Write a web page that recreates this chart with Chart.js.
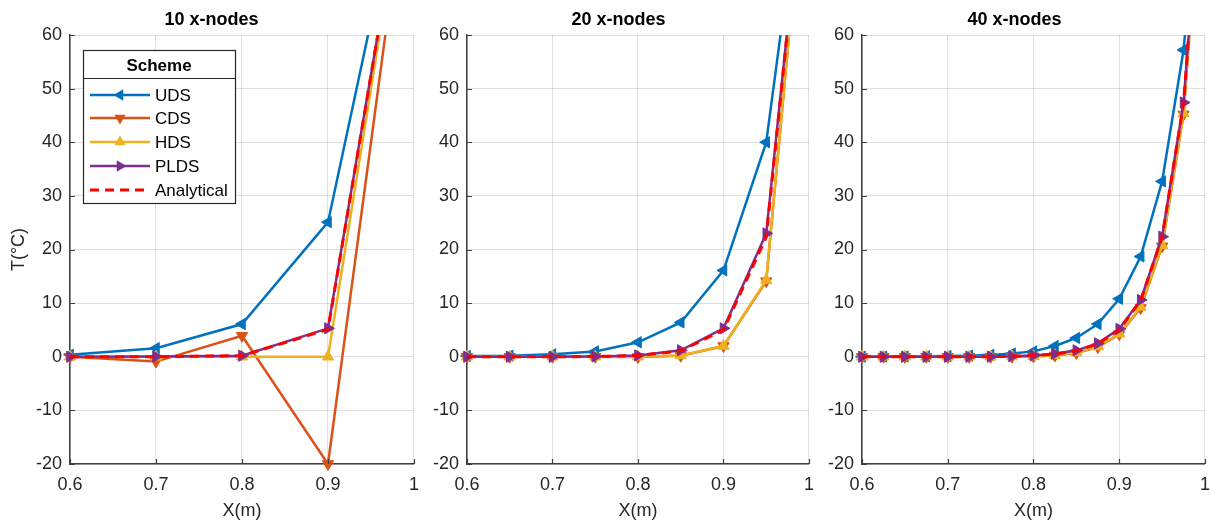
<!DOCTYPE html>
<html><head><meta charset="utf-8">
<script src="https://cdn.jsdelivr.net/npm/chart.js@4/dist/chart.umd.min.js"></script>
<style>
html,body{margin:0;padding:0;background:#fff;width:1211px;height:521px;overflow:hidden;position:relative;}
canvas{position:absolute;top:0;}
</style></head><body>
<canvas id="c1" width="429" height="521" style="left:0px"></canvas>
<canvas id="c2" width="405" height="521" style="left:419px"></canvas>
<canvas id="c3" width="405" height="521" style="left:815px"></canvas>
<script>
// ---- data ----
const schemes = ['UDS', 'CDS', 'HDS', 'PLDS', 'Analytical'];
const panelTitles = ['10 x-nodes', '20 x-nodes', '40 x-nodes'];
const legendTitle = 'Scheme';
const xAxisTitle = 'X(m)';
const yAxisTitle = 'T(°C)';

const x10 = [0.6, 0.7, 0.8, 0.9, 1.0];
const uds10 = [0.37, 1.6, 6.1, 25.1, 100];
const cds10 = [0.0, -0.9, 3.9, -20, 100];
const hds10 = [0.0, 0.0, 0.0, 0.0, 100];
const plds10 = [0.0, 0.05, 0.2, 5.3, 100];
const ana10 = [0.0, 0.02, 0.2, 5.1, 100];

const x20 = [0.6, 0.65, 0.7, 0.75, 0.8, 0.85, 0.9, 0.95, 1.0];
const uds20 = [0.15, 0.2, 0.45, 1.0, 2.7, 6.4, 16.1, 40.0, 100];
const cds20 = [0.0, 0.0, 0.0, 0.0, -0.05, 0.2, 2.0, 14.1, 100];
const hds20 = [0.0, 0.0, 0.0, 0.0, 0.02, 0.25, 2.0, 14.3, 100];
const plds20 = [0.0, 0.0, 0.0, 0.05, 0.25, 1.2, 5.3, 23.0, 100];
const ana20 = [0.0, 0.0, 0.0, 0.05, 0.22, 1.1, 5.0, 22.3, 100];

const x40 = [0.6, 0.625, 0.65, 0.675, 0.7, 0.725, 0.75, 0.775, 0.8, 0.825, 0.85, 0.875, 0.9, 0.925, 0.95, 0.975, 1.0];
const uds40 = [0.02, 0.03, 0.05, 0.08, 0.12, 0.2, 0.35, 0.6, 1.0, 2.0, 3.5, 6.1, 10.8, 18.7, 32.7, 57.2, 100];
const cds40 = [0, 0, 0, 0, 0, 0, 0, 0.02, 0.08, 0.25, 0.7, 1.8, 4.2, 9.1, 20.6, 45.2, 100];
const hds40 = [0, 0, 0, 0, 0, 0, 0, 0.03, 0.1, 0.3, 0.8, 1.9, 4.3, 9.3, 20.8, 45.4, 100];
const plds40 = [0, 0, 0, 0, 0, 0, 0.02, 0.08, 0.25, 0.55, 1.2, 2.5, 5.2, 10.6, 22.4, 47.4, 100];
const ana40 = [0, 0, 0, 0, 0, 0, 0.02, 0.08, 0.22, 0.5, 1.1, 2.4, 5.0, 10.5, 22.3, 47.2, 100];

// ---- styles ----
const FONT = "'Liberation Sans', Arial, Helvetica, sans-serif";
const colors = ['#0072BD', '#D95319', '#EDB120', '#7E2F8E', '#FF0000'];
const rotations = [270, 180, 0, 90, 0];
const drawOrder = [5, 4, 3, 2, 1];
const gridColor = 'rgba(38,38,38,0.15)';
const axisColor = '#404040';
const textColor = '#262626';

function makeDatasets(xs, seriesList) {
  return seriesList.map((vals, i) => {
    const isAna = i === 4;
    return {
      label: schemes[i],
      data: xs.map((x, k) => ({ x: x, y: vals[k] })),
      borderColor: colors[i],
      backgroundColor: colors[i],
      borderWidth: isAna ? 3 : 2.5,
      borderDash: isAna ? [9, 6] : [],
      pointStyle: 'triangle',
      pointRotation: rotations[i],
      pointRadius: isAna ? 0 : 6.5,
      pointHoverRadius: isAna ? 0 : 6.5,
      pointBackgroundColor: colors[i],
      pointBorderColor: colors[i],
      pointBorderWidth: 1,
      tension: 0,
      order: drawOrder[i],
      clip: { left: 10, top: 0, right: 0, bottom: 10 }
    };
  });
}

const innerTicks = {
  id: 'innerTicks',
  afterDraw(chart) {
    const ctx = chart.ctx, a = chart.chartArea;
    const xs = chart.scales.x, ys = chart.scales.y;
    ctx.save();
    ctx.strokeStyle = axisColor;
    ctx.lineWidth = 1.2;
    ctx.beginPath();
    ys.ticks.forEach(t => {
      const py = Math.round(ys.getPixelForValue(t.value)) + 0.5;
      ctx.moveTo(a.left, py); ctx.lineTo(a.left + 5, py);
    });
    xs.ticks.forEach(t => {
      const px = Math.round(xs.getPixelForValue(t.value)) + 0.5;
      ctx.moveTo(px, a.bottom); ctx.lineTo(px, a.bottom - 5);
    });
    ctx.stroke();
    ctx.restore();
  }
};

function drawTri(ctx, cx, cy, r, rotDeg) {
  let rad = rotDeg * Math.PI / 180;
  ctx.beginPath();
  for (let k = 0; k < 3; k++) {
    const px = cx + Math.sin(rad) * r, py = cy - Math.cos(rad) * r;
    if (k === 0) ctx.moveTo(px, py); else ctx.lineTo(px, py);
    rad += 2 * Math.PI / 3;
  }
  ctx.closePath();
  ctx.fill();
}

const schemeLegend = {
  id: 'schemeLegend',
  afterDraw(chart) {
    const ctx = chart.ctx;
    const L = 83, T = 50, R = 235, B = 203, sep = 78;
    ctx.save();
    ctx.fillStyle = '#fff';
    ctx.fillRect(L, T, R - L, B - T);
    ctx.strokeStyle = textColor;
    ctx.lineWidth = 1.2;
    ctx.strokeRect(L + 0.5, T + 0.5, R - L, B - T);
    ctx.beginPath(); ctx.moveTo(L, sep + 0.5); ctx.lineTo(R, sep + 0.5); ctx.stroke();
    ctx.fillStyle = '#000';
    ctx.font = 'bold 17px ' + FONT;
    ctx.textAlign = 'center'; ctx.textBaseline = 'middle';
    ctx.fillText(legendTitle, (L + R) / 2, 66);
    const rows = [95, 118, 142, 166, 190];
    ctx.font = '17px ' + FONT;
    ctx.textAlign = 'left';
    schemes.forEach((s, i) => {
      const y = rows[i];
      ctx.strokeStyle = colors[i];
      ctx.fillStyle = colors[i];
      ctx.lineWidth = i === 4 ? 3 : 2.5;
      ctx.setLineDash(i === 4 ? [9, 6] : []);
      ctx.beginPath(); ctx.moveTo(90, y); ctx.lineTo(150, y); ctx.stroke();
      ctx.setLineDash([]);
      if (i < 4) drawTri(ctx, 120, y, 6.5, rotations[i]);
      ctx.fillStyle = '#000';
      ctx.fillText(s, 155, y + 1);
    });
    ctx.restore();
  }
};

function makePanel(id, title, xs, seriesList, yW, padRight, showYTitle, withLegend) {
  return new Chart(document.getElementById(id), {
    type: 'line',
    data: { datasets: makeDatasets(xs, seriesList) },
    options: {
      responsive: false,
      animation: false,
      events: [],
      layout: { padding: { top: 0, right: padRight, bottom: 0, left: 0 } },
      plugins: {
        legend: { display: false },
        tooltip: { enabled: false },
        title: {
          display: true, text: title, color: '#000',
          font: { family: FONT, size: 18, weight: 'bold', lineHeight: 1.2 },
          padding: { top: 9, bottom: 4.4 }
        }
      },
      scales: {
        x: {
          type: 'linear', min: 0.6, max: 1,
          afterFit: s => { s.height = 57; },
          ticks: {
            stepSize: 0.1, padding: 10, color: textColor, maxRotation: 0, autoSkip: false,
            font: { family: FONT, size: 18 },
            callback: v => String(Math.round(v * 10) / 10)
          },
          grid: { color: gridColor, drawTicks: false, lineWidth: 1 },
          border: { display: true, color: axisColor, width: 1.5 },
          title: { display: true, text: xAxisTitle, color: textColor,
                   font: { family: FONT, size: 18 }, padding: { top: 0, bottom: -1 } }
        },
        y: {
          min: -20, max: 60,
          afterFit: s => { s.width = yW; },
          ticks: { stepSize: 10, padding: 8, color: textColor, font: { family: FONT, size: 18 } },
          grid: { color: gridColor, drawTicks: false, lineWidth: 1 },
          border: { display: true, color: axisColor, width: 1.5 },
          title: { display: showYTitle, text: yAxisTitle, color: textColor,
                   font: { family: FONT, size: 18 }, padding: { top: 8, bottom: 0 } }
        }
      }
    },
    plugins: withLegend ? [innerTicks, schemeLegend] : [innerTicks]
  });
}

makePanel('c1', panelTitles[0], x10, [uds10, cds10, hds10, plds10, ana10], 70, 6, true, true);
makePanel('c2', panelTitles[1], x20, [uds20, cds20, hds20, plds20, ana20], 48, 6, false, false);
makePanel('c3', panelTitles[2], x40, [uds40, cds40, hds40, plds40, ana40], 47, 6, false, false);
</script>
</body></html>
